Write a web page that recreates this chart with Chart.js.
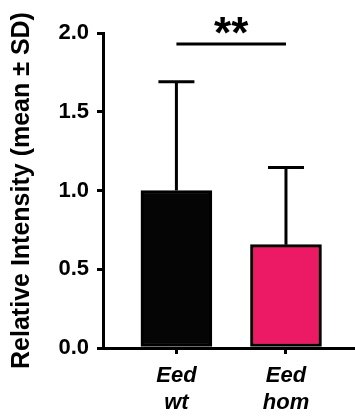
<!DOCTYPE html>
<html>
<head>
<meta charset="utf-8">
<script src="https://cdn.jsdelivr.net/npm/chart.js@4"></script>
<style>
    html, body { margin: 0; padding: 0; background: #fff; }
    #wrap { width: 355px; height: 419px; }
</style>
</head>
<body>
<div id="wrap"><canvas id="chart" width="355" height="419"></canvas></div>
<script>
// ===== Relative intensity bar chart =====

const groups = [['Eed', 'wt'], ['Eed', 'hom']];
const positions = [1, 2];
const means = [1.0, 0.656];
const sds = [0.69, 0.49];
const barColors = ['#050505', '#ec1a64'];
const yTicks = [0, 0.5, 1.0, 1.5, 2.0];
const sigLabel = '**';
const sigLevel = 1.93;

const FONT = '"Liberation Sans", Arial, sans-serif';

// Error bars (upper only) + significance bracket
const extras = {
    id: 'extras',
    afterDatasetsDraw(chart) {
        const { ctx, scales: { x, y } } = chart;
        ctx.save();
        ctx.strokeStyle = '#000';
        ctx.lineWidth = 3;
        ctx.lineCap = 'butt';
        positions.forEach((p, i) => {
            const px = x.getPixelForValue(p);
            const top = y.getPixelForValue(means[i] + sds[i]);
            const base = y.getPixelForValue(means[i]);
            ctx.beginPath();
            ctx.moveTo(px, base);
            ctx.lineTo(px, top);
            ctx.moveTo(px - 18, top);
            ctx.lineTo(px + 18, top);
            ctx.stroke();
        });
        const x1 = x.getPixelForValue(positions[0]);
        const x2 = x.getPixelForValue(positions[1]);
        const sy = y.getPixelForValue(sigLevel);
        ctx.beginPath();
        ctx.moveTo(x1, sy);
        ctx.lineTo(x2, sy);
        ctx.stroke();
        ctx.fillStyle = '#000';
        ctx.font = 'bold 44px ' + FONT;
        ctx.textAlign = 'center';
        ctx.textBaseline = 'alphabetic';
        ctx.fillText(sigLabel, (x1 + x2) / 2, sy + 4);
        ctx.restore();
    }
};

new Chart(document.getElementById('chart').getContext('2d'), {
    type: 'bar',
    data: {
        datasets: [{
            data: positions.map((p, i) => ({ x: p, y: means[i] })),
            backgroundColor: barColors,
            borderColor: '#000',
            borderWidth: 3,
            borderSkipped: false,
            barThickness: 71
        }]
    },
    options: {
        responsive: false,
        animation: false,
        layout: { padding: { top: 33, right: 0, left: 7, bottom: 0 } },
        plugins: {
            legend: { display: false },
            tooltip: { enabled: false }
        },
        scales: {
            x: {
                type: 'linear',
                offset: false,
                min: 0.33,
                max: 2.63,
                afterFit: (scale) => { scale.height = 71; },
                afterBuildTicks: (scale) => {
                    scale.ticks = positions.map(v => ({ value: v }));
                },
                ticks: {
                    color: '#000',
                    font: { family: FONT, size: 22, weight: 'bold', style: 'italic', lineHeight: 1.2 },
                    padding: 9,
                    maxRotation: 0,
                    autoSkip: false,
                    callback: (v) => groups[positions.indexOf(v)] || ''
                },
                grid: { offset: false, drawOnChartArea: false, drawTicks: true, tickLength: 6, color: '#000', lineWidth: 3 },
                border: { color: '#000', width: 3 }
            },
            y: {
                min: 0,
                max: 2,
                afterFit: (scale) => { scale.width = 96; },
                afterBuildTicks: (scale) => {
                    scale.ticks = yTicks.map(v => ({ value: v }));
                },
                ticks: {
                    color: '#000',
                    font: { family: FONT, size: 22, weight: 'bold' },
                    padding: 8,
                    callback: (v) => v.toFixed(1)
                },
                grid: { drawOnChartArea: false, drawTicks: true, tickLength: 6, color: '#000', lineWidth: 3 },
                border: { color: '#000', width: 3 },
                title: {
                    display: true,
                    text: 'Relative Intensity (mean ± SD)',
                    color: '#000',
                    font: { family: FONT, size: 25, weight: 'bold' },
                    padding: { top: 0, bottom: 0 }
                }
            }
        }
    },
    plugins: [extras]
});
</script>
</body>
</html>
